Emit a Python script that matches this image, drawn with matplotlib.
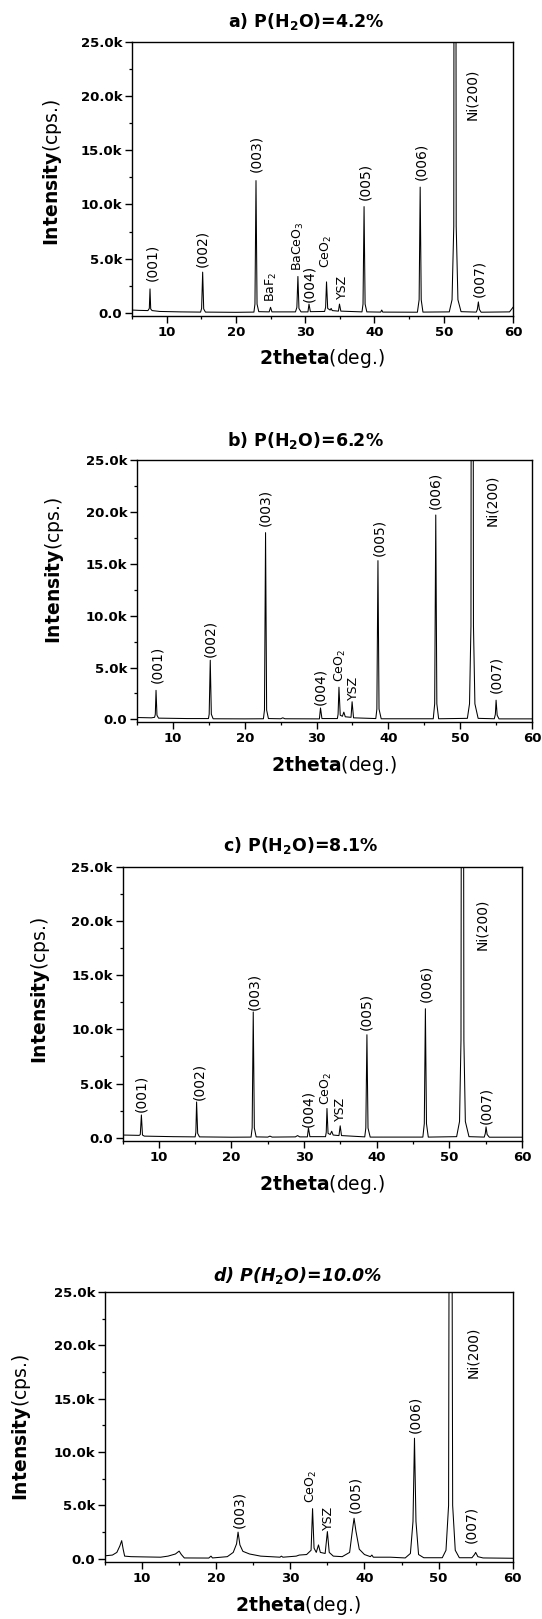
import matplotlib
matplotlib.use("Agg")
import matplotlib.pyplot as plt
from matplotlib.ticker import MultipleLocator, FuncFormatter

W, H = 542, 1619

# ---------------- data ----------------
# panel a: P(H2O)=4.2%
a_x = [5.0, 6.0, 7.3, 7.5, 7.6, 7.7, 7.9, 9.0, 12.0, 14.9, 15.05, 15.2, 15.35, 15.6, 20.0,
       22.6, 22.75, 22.9, 23.05, 23.3, 24.8, 25.0, 25.2, 28.6, 28.8, 28.95, 29.1, 29.4,
       30.4, 30.55, 30.75, 32.8, 32.95, 33.08, 33.25, 33.6, 33.75, 33.9, 34.8, 34.95, 35.15,
       38.2, 38.35, 38.5, 38.65, 38.9, 40.9, 41.05, 41.2, 46.2, 46.45, 46.6, 46.75, 47.0,
       50.8, 51.2, 51.45, 51.52, 51.72, 51.8, 52.05, 52.5, 54.7, 54.85, 55.0, 55.15, 55.4, 59.5, 60.0]
a_y = [250, 220, 200, 400, 2200, 350, 200, 120, 80, 60, 400, 3750, 350, 60, 40,
       60, 800, 12200, 800, 100, 80, 500, 80, 80, 500, 3350, 400, 80,
       80, 800, 100, 120, 500, 2850, 400, 250, 400, 200, 150, 800, 150,
       80, 800, 9800, 800, 80, 60, 250, 60, 50, 1200, 11600, 1200, 60,
       80, 1200, 8000, 60000, 60000, 8000, 1200, 100, 60, 300, 1000, 300, 50, 80, 500]

# panel b: P(H2O)=6.2%
b_x = [5.0, 7.0, 7.45, 7.55, 7.65, 7.78, 8.0, 12.0, 14.95, 15.05, 15.2, 15.35, 15.6, 20.0,
       22.6, 22.75, 22.9, 23.05, 23.3, 25.0, 25.3, 25.6, 30.4, 30.55, 30.75,
       32.9, 33.0, 33.12, 33.3, 33.6, 33.8, 34.0, 34.8, 34.95, 35.15,
       38.25, 38.4, 38.55, 38.7, 39.0, 46.25, 46.45, 46.6, 46.75, 47.0,
       51.0, 51.3, 51.5, 51.57, 51.77, 51.85, 52.05, 52.5, 54.75, 54.9, 55.0, 55.15, 55.4, 60.0]
b_y = [180, 150, 200, 500, 2800, 400, 120, 80, 80, 500, 5700, 500, 60, 50,
       60, 900, 18000, 900, 80, 60, 150, 60, 50, 1100, 80,
       80, 500, 3100, 400, 300, 700, 250, 200, 1700, 150,
       80, 1000, 15300, 1000, 60, 60, 1500, 19700, 1500, 60,
       100, 1500, 9000, 60000, 60000, 9000, 1500, 100, 60, 500, 1850, 400, 50, 50]

# panel c: P(H2O)=8.1%
c_x = [5.0, 7.3, 7.45, 7.6, 7.75, 8.0, 12.0, 15.0, 15.1, 15.2, 15.35, 15.6, 20.0,
       22.7, 22.85, 23.0, 23.15, 23.4, 25.0, 25.3, 25.6, 28.8, 29.1, 29.4,
       30.45, 30.6, 30.8, 32.95, 33.05, 33.15, 33.3, 33.6, 33.8, 34.0, 34.8, 34.97, 35.15,
       38.35, 38.5, 38.65, 38.8, 39.1, 46.35, 46.55, 46.7, 46.85, 47.1,
       51.0, 51.4, 51.6, 51.7, 51.9, 52.0, 52.2, 52.7, 54.8, 54.95, 55.05, 55.2, 55.5, 60.0]
c_y = [250, 220, 300, 2100, 250, 150, 100, 80, 500, 3300, 400, 80, 50,
       60, 900, 11600, 900, 80, 60, 150, 60, 80, 200, 80,
       80, 900, 100, 100, 500, 2700, 400, 300, 600, 250, 200, 1100, 200,
       80, 900, 9500, 900, 60, 60, 1300, 11900, 1300, 60,
       100, 1500, 9000, 60000, 60000, 9000, 1500, 100, 60, 400, 1000, 300, 50, 50]

# panel d: P(H2O)=10.0%
d_x = [5.0, 6.0, 6.6, 7.0, 7.25, 7.45, 7.65, 8.5, 10.0, 12.5, 13.5, 14.5, 15.0, 15.3, 15.7,
       19.0, 19.3, 19.5, 21.5, 22.3, 22.75, 22.95, 23.2, 23.6, 24.5, 26.0,
       28.6, 28.8, 29.0, 30.8, 31.2, 32.2, 32.8, 33.0, 33.2, 33.5, 33.8, 34.05,
       34.7, 35.0, 35.25, 35.8, 37.0, 38.0, 38.4, 38.6, 38.85, 39.3, 40.0,
       40.8, 41.0, 41.2, 43.5, 45.5, 46.2, 46.55, 46.75, 46.95, 47.3, 48.0,
       50.5, 51.0, 51.35, 51.5, 51.72, 51.9, 52.25, 52.8, 54.5, 54.85, 55.0, 55.3, 56.0, 60.0]
d_y = [280, 350, 600, 1200, 1700, 900, 250, 200, 180, 150, 250, 450, 720, 400, 80,
       70, 250, 80, 200, 600, 1400, 2500, 1300, 700, 450, 250,
       150, 250, 150, 250, 350, 400, 800, 4700, 1000, 600, 1300, 600,
       500, 2550, 600, 250, 200, 600, 2800, 3800, 2600, 900, 400,
       200, 350, 150, 150, 80, 500, 3500, 11300, 3500, 400, 100,
       100, 800, 5000, 60000, 60000, 5000, 800, 100, 100, 400, 600, 200, 80, 50]

# peak labels: (text, x, y-bottom, size)
a_labels = [("(001)", 7.9, 2900, 10), ("(002)", 15.1, 4250, 10), ("(003)", 22.9, 13000, 10),
            ("BaF$_2$", 25.1, 1000, 9), ("BaCeO$_3$", 29.0, 3900, 9), ("(004)", 30.6, 1000, 10),
            ("CeO$_2$", 33.1, 4100, 9), ("YSZ", 35.4, 1300, 9), ("(005)", 38.7, 10400, 10),
            ("(006)", 46.7, 12250, 10), ("Ni(200)", 54.1, 17800, 10), ("(007)", 55.1, 1500, 10)]
b_labels = [("(001)", 7.8, 3500, 10), ("(002)", 15.2, 6000, 10), ("(003)", 22.9, 18600, 10),
            ("(004)", 30.5, 1400, 10), ("CeO$_2$", 33.3, 3600, 9), ("YSZ", 35.2, 1900, 9),
            ("(005)", 38.8, 15700, 10), ("(006)", 46.5, 20300, 10), ("Ni(200)", 54.4, 18600, 10),
            ("(007)", 55.0, 2500, 10)]
c_labels = [("(001)", 7.6, 2400, 10), ("(002)", 15.5, 3500, 10), ("(003)", 23.1, 11800, 10),
            ("(004)", 30.6, 1000, 10), ("CeO$_2$", 33.1, 3000, 9), ("YSZ", 35.0, 1500, 9),
            ("(005)", 38.6, 9900, 10), ("(006)", 46.8, 12500, 10), ("Ni(200)", 54.5, 17300, 10),
            ("(007)", 55.1, 1300, 10)]
d_labels = [("(003)", 23.1, 2900, 10), ("CeO$_2$", 32.9, 5200, 9), ("YSZ", 35.1, 2700, 9),
            ("(005)", 38.7, 4300, 10), ("(006)", 46.8, 11800, 10), ("Ni(200)", 54.7, 16900, 10),
            ("(007)", 54.4, 1500, 10)]

titles = ["a) P(H$_\\mathbf{2}$O)=4.2%", "b) P(H$_\\mathbf{2}$O)=6.2%",
          "c) P(H$_\\mathbf{2}$O)=8.1%", "d) P(H$_\\mathbf{2}$O)=10.0%"]
title_style = ["normal", "normal", "normal", "italic"]

# ---------------- layout (pixels) ----------------
# left, right, top, bottom-spine
boxes = [(132, 513, 42, 316), (137, 532, 460, 722.5), (122.5, 522, 866.7, 1141), (105, 512.7, 1292, 1562)]
title_pos = [(306, 21), (305, 440), (301, 845), (298, 1275)]
ylab_pos = [(53, 172), (55, 570), (41, 990), (22, 1427)]
xlab_pos = [(322, 359), (334, 765), (322, 1184), (298, 1605)]

fig = plt.figure(figsize=(W / 100, H / 100), dpi=100)

series = [(a_x, a_y, a_labels), (b_x, b_y, b_labels), (c_x, c_y, c_labels), (d_x, d_y, d_labels)]

def kfmt(v, pos):
    if abs(v) < 1e-6:
        return "0.0"
    return f"{v / 1000:.1f}k"

for i, ((xs, ys, labs), (l, r, t, b)) in enumerate(zip(series, boxes)):
    ax = fig.add_axes([l / W, 1 - b / H, (r - l) / W, (b - t) / H])
    ax.plot(xs, ys, color="black", lw=0.75)
    ax.set_xlim(5, 60)
    ax.set_ylim(-300, 25000)
    ax.xaxis.set_major_locator(MultipleLocator(10))
    ax.xaxis.set_minor_locator(MultipleLocator(5))
    ax.yaxis.set_major_locator(MultipleLocator(5000))
    ax.yaxis.set_minor_locator(MultipleLocator(2500))
    ax.yaxis.set_major_formatter(FuncFormatter(kfmt))
    ax.tick_params(which="major", direction="out", length=5, width=1.0, labelsize=9.5, pad=2)
    ax.tick_params(which="minor", direction="out", length=2.5, width=0.9)
    ax.tick_params(top=False, right=False)
    for lab in ax.get_xticklabels() + ax.get_yticklabels():
        lab.set_fontweight("bold")
    for sp in ax.spines.values():
        sp.set_linewidth(1.0)
    for txt, x, y, fs in labs:
        ax.text(x, y, txt, rotation=90, ha="center", va="bottom", fontsize=fs)

    tx, ty = title_pos[i]
    fig.text(tx / W, 1 - ty / H, titles[i], ha="center", va="center", fontsize=12.5,
             fontweight="bold", fontstyle=title_style[i])
    yx, yy = ylab_pos[i]
    fig.text(yx / W, 1 - yy / H, r"$\mathbf{Intensity}$(cps.)", rotation=90,
             ha="center", va="center", fontsize=13.5)
    xx, xy = xlab_pos[i]
    fig.text(xx / W, 1 - xy / H, r"$\mathbf{2theta}$(deg.)", ha="center", va="center", fontsize=13.5)

fig.savefig("out.png", dpi=100)
